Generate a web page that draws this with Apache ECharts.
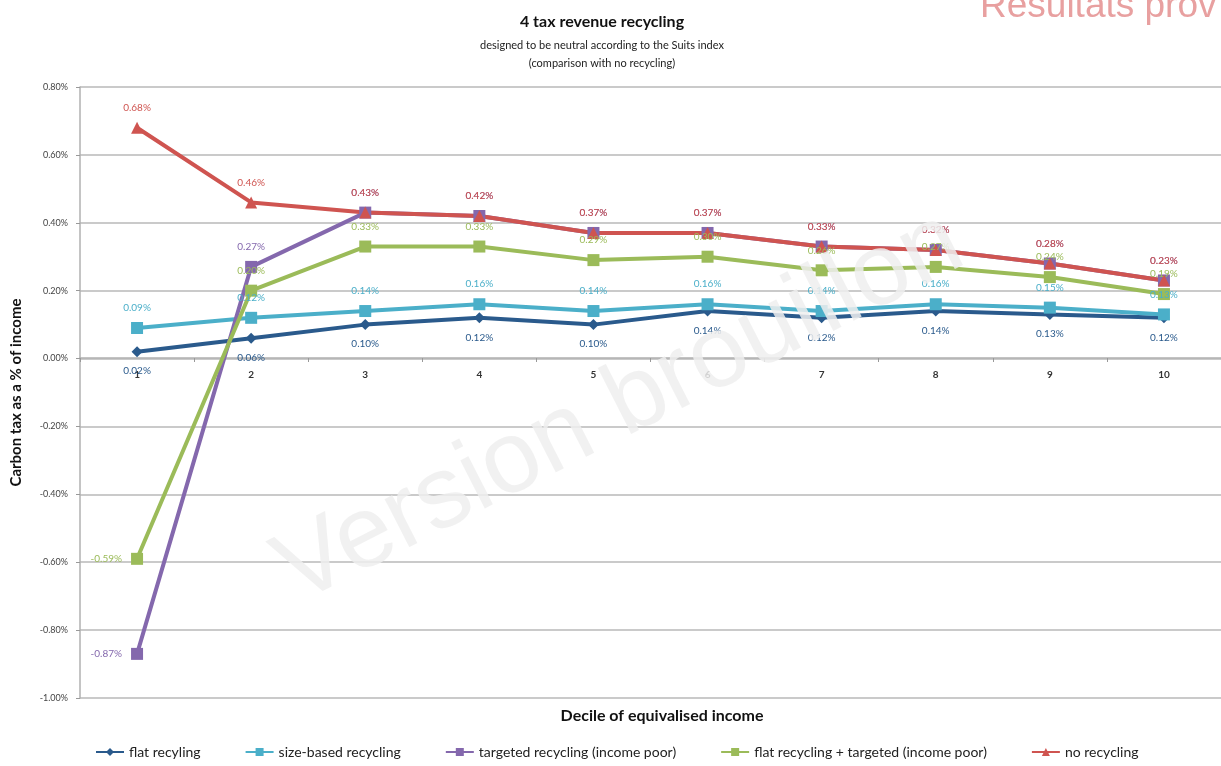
<!DOCTYPE html>
<html lang="en">
<head>
    <meta charset="utf-8">
    <title>4 tax revenue recycling</title>
    <script src="https://cdn.jsdelivr.net/npm/echarts@6/dist/echarts.min.js"></script>
    <style>
        html, body { margin: 0; padding: 0; background: #fff; }
        #chart { width: 1221px; height: 766px; }
    </style>
</head>
<body>
    <div id="chart"></div>
    <script type="text/javascript">

    // deciles
    var deciles = ['1', '2', '3', '4', '5', '6', '7', '8', '9', '10'];

    // carbon tax as % of income
    var flatRecycling     = [0.02, 0.06, 0.10, 0.12, 0.10, 0.14, 0.12, 0.14, 0.13, 0.12];
    var sizeBased         = [0.09, 0.12, 0.14, 0.16, 0.14, 0.16, 0.14, 0.16, 0.15, 0.13];
    var targetedPoor      = [-0.87, 0.27, 0.43, 0.42, 0.37, 0.37, 0.33, 0.32, 0.28, 0.23];
    var flatPlusTargeted  = [-0.59, 0.20, 0.33, 0.33, 0.29, 0.30, 0.26, 0.27, 0.24, 0.19];
    var noRecycling       = [0.68, 0.46, 0.43, 0.42, 0.37, 0.37, 0.33, 0.32, 0.28, 0.23];

    var seriesNames = ['flat recyling', 'size-based recycling', 'targeted recycling (income poor)',
                       'flat recycling + targeted (income poor)', 'no recycling'];

    var FONT = 'Lato, "Open Sans", sans-serif';

    function pct(v) { return v.toFixed(2) + '%'; }

    // helper to build one line series
    function makeLine(name, data, color, symbol, size, labelPos, firstLabelPos) {
        return {
            name: name,
            type: 'line',
            data: data.map(function (v, i) {
                var item = { value: v };
                if (i === 0 && firstLabelPos) {
                    item.label = { position: firstLabelPos };
                }
                return item;
            }),
            symbol: symbol,
            symbolSize: size,
            lineStyle: { color: color, width: 4 },
            itemStyle: { color: color },
            label: {
                show: true,
                position: labelPos,
                distance: 9,
                color: color,
                fontFamily: FONT,
                fontSize: 10,
                formatter: function (p) { return pct(p.value); }
            }
        };
    }

    var chart = echarts.init(document.getElementById('chart'));
    chart.setOption({
        backgroundColor: '#fff',
        animation: false,
        title: [{
            text: '4 tax revenue recycling',
            subtext: 'designed to be neutral according to the Suits index\n(comparison with no recycling)',
            left: 597,
            top: 9,
            textAlign: 'center',
            itemGap: 6,
            textStyle: { fontFamily: FONT, fontSize: 16, fontWeight: 'bold', color: '#111' },
            subtextStyle: { fontFamily: FONT, fontSize: 11, color: '#222', lineHeight: 18 }
        }, {
            text: 'Decile of equivalised income',
            left: 657,
            top: 703,
            textAlign: 'center',
            textStyle: { fontFamily: FONT, fontSize: 16, fontWeight: 'bold', color: '#111' }
        }],
        graphic: [{
            type: 'text',
            left: 980,
            top: -12,
            style: { text: 'Resultats prov', font: '37px "Liberation Sans", Arial, sans-serif', fill: '#e8a0a0' }
        }, {
            type: 'text',
            x: 620,
            y: 408,
            rotation: Math.PI * 27 / 180,
            z: 100,
            style: {
                text: 'Version brouillon',
                font: '102px "Liberation Sans", Arial, sans-serif',
                fill: 'rgba(238,238,238,0.85)',
                align: 'center',
                verticalAlign: 'middle'
            }
        }],
        legend: {
            data: seriesNames,
            bottom: 2,
            left: 90,
            itemGap: 44,
            itemWidth: 28,
            itemHeight: 10,
            textStyle: { fontFamily: FONT, fontSize: 14, color: '#222' }
        },
        grid: {
            left: 80,
            right: -13,
            top: 87,
            bottom: 68
        },
        xAxis: {
            type: 'category',
            data: deciles,
            boundaryGap: true,
            position: 'bottom',
            offset: -340,
            axisLine: { onZero: false, lineStyle: { color: '#b0b0b0', width: 1.5 } },
            axisTick: { show: true, length: 4, lineStyle: { color: '#999' } },
            axisLabel: { fontFamily: FONT, fontSize: 10, fontWeight: 'bold', color: '#333', margin: 12 }
        },
        yAxis: {
            type: 'value',
            min: -1.0,
            max: 0.8,
            interval: 0.2,
            name: 'Carbon tax as a % of income',
            nameLocation: 'middle',
            nameGap: 56,
            nameTextStyle: { fontFamily: FONT, fontSize: 15, fontWeight: 'bold', color: '#111' },
            axisLine: { show: true, lineStyle: { color: '#b0b0b0', width: 1.5 } },
            axisTick: { show: true, length: 4, lineStyle: { color: '#999' } },
            splitLine: { lineStyle: { color: '#b8b8b8', width: 1.5 } },
            axisLabel: {
                fontFamily: FONT,
                fontSize: 9,
                color: '#444',
                margin: 12,
                formatter: function (v) { return pct(v); }
            }
        },
        series: [
            makeLine(seriesNames[0], flatRecycling, '#2a5a8c', 'diamond', 11, 'bottom'),
            makeLine(seriesNames[1], sizeBased, '#4bafc9', 'rect', 12, 'top'),
            makeLine(seriesNames[2], targetedPoor, '#8468ad', 'rect', 12, 'top', 'left'),
            makeLine(seriesNames[3], flatPlusTargeted, '#9bbb59', 'rect', 12, 'top', 'left'),
            makeLine(seriesNames[4], noRecycling, '#cf5450', 'triangle', 12, 'top')
        ]
    });
    </script>
</body>
</html>
